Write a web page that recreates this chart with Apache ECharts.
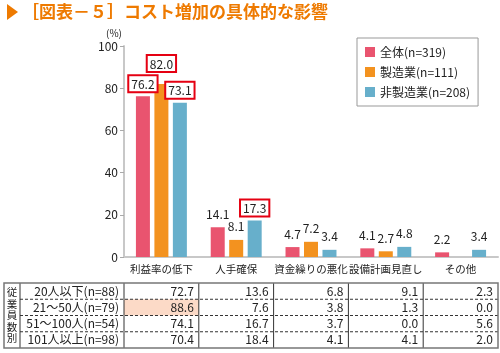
<!DOCTYPE html>
<html><head><meta charset="utf-8">
<script src="https://cdn.jsdelivr.net/npm/echarts@6/dist/echarts.min.js"></script>
<style>html,body{margin:0;padding:0;background:#fff}#c{width:500px;height:353px}</style>
</head><body><div id="c"></div>
<script>
const categories = ['利益率の低下', '人手確保', '資金繰りの悪化', '設備計画見直し', 'その他'];
const seriesNames = ['全体(n=319)', '製造業(n=111)', '非製造業(n=208)'];
const valAll = [76.2, 14.1, 4.7, 4.1, 2.2];
const valMfg = [82.0, 8.1, 7.2, 2.7, null];
const valNonMfg = [73.1, 17.3, 3.4, 4.8, 3.4];
const yTicks = [0, 20, 40, 60, 80, 100];
const tableGroupLabel = '従業員数別';
const tableRowLabels = ['20人以下(n=88)', '21～50人(n=79)', '51～100人(n=54)', '101人以上(n=98)'];
const tableRow1 = [72.7, 13.6, 6.8, 9.1, 2.3];
const tableRow2 = [88.6, 7.6, 3.8, 1.3, 0.0];
const tableRow3 = [74.1, 16.7, 3.7, 0.0, 5.6];
const tableRow4 = [70.4, 18.4, 4.1, 4.1, 2.0];
const tableRows = [tableRow1, tableRow2, tableRow3, tableRow4];

const colors = ['#e9546f', '#f3921f', '#67afcb'];
const FONT = '"Noto Sans CJK JP", "Noto Sans", sans-serif';
// highlighted (boxed) labels: [seriesIndex, dataIndex, extraDistance]
const boxed = [[0,0,0],[1,0,8],[2,0,0],[2,1,0]];
// highlighted table cell: [row, col]
const hiCell = [1, 0];

const gridLeft = 124, gridRight = 2, gridTop = 46, gridBottom = 96;
const W = 500;
const colW = (W - gridLeft - gridRight) / categories.length;

function makeData(vals, si) {
  return vals.map((v, i) => {
    const b = boxed.find(x => x[0] === si && x[1] === i);
    if (v === null) return { value: null, label: { show: false } };
    if (b) {
      return { value: v, label: { show: true, borderColor: '#e50012', borderWidth: 2,
        backgroundColor: '#fff', padding: [2, 2, 1, 2], distance: 5 + b[2] } };
    }
    return v;
  });
}

const series = [valAll, valMfg, valNonMfg].map((vals, si) => ({
  name: seriesNames[si], type: 'bar', data: makeData(vals, si),
  barWidth: 14, barGap: '32%',
  itemStyle: { color: colors[si] },
  label: { show: true, position: 'top', distance: 7, color: '#222', fontSize: 12, fontFamily: FONT,
    formatter: p => p.value.toFixed(1) }
}));

const g = [];
const tTop = 283, rowH = 16.25, tLeft = 4, c1 = 20;
const tBottom = tTop + rowH * tableRows.length;
const tRight = gridLeft + colW * categories.length;
g.push({ type: 'rect', shape: { x: gridLeft + colW * hiCell[1], y: tTop + rowH * hiCell[0], width: colW, height: rowH },
  style: { fill: '#fcdac7' } });
for (let r = 1; r < tableRows.length; r++) {
  g.push({ type: 'line', shape: { x1: c1, y1: tTop + rowH * r, x2: tRight, y2: tTop + rowH * r },
    style: { stroke: '#333', lineWidth: 1, lineDash: [3, 2] } });
}
const vx = [c1, gridLeft];
for (let c = 1; c < categories.length; c++) vx.push(gridLeft + colW * c);
vx.forEach(x => g.push({ type: 'line', shape: { x1: x, y1: tTop, x2: x, y2: tBottom }, style: { stroke: '#333', lineWidth: 1 } }));
g.push({ type: 'rect', shape: { x: tLeft, y: tTop, width: tRight - tLeft, height: tBottom - tTop },
  style: { fill: 'none', stroke: '#777', lineWidth: 1.5 } });
g.push({ type: 'text', style: { text: tableGroupLabel.split('').join('\n'), x: (tLeft + c1) / 2, y: (tTop + tBottom) / 2,
  align: 'center', verticalAlign: 'middle', fontSize: 10.5, lineHeight: 11.5, fontFamily: FONT, fill: '#222' } });
tableRowLabels.forEach((lab, r) => {
  g.push({ type: 'text', style: { text: lab, x: gridLeft - 5, y: tTop + rowH * (r + 0.5),
    align: 'right', verticalAlign: 'middle', fontSize: 12, fontFamily: FONT, fill: '#222' } });
  tableRows[r].forEach((v, c) => {
    g.push({ type: 'text', style: { text: v.toFixed(1), x: gridLeft + colW * (c + 1) - 5, y: tTop + rowH * (r + 0.5),
      align: 'right', verticalAlign: 'middle', fontSize: 12, fontFamily: FONT, fill: '#222' } });
  });
});
g.push({ type: 'polygon', shape: { points: [[7, 4], [18, 12], [7, 20]] }, style: { fill: '#ee7a00' } });
g.push({ type: 'text', style: { text: '［図表－５］コスト増加の具体的な影響', x: 22, y: 12, verticalAlign: 'middle',
  fontSize: 17, fontWeight: 'bold', fontFamily: FONT, fill: '#ee7a00' } });
g.push({ type: 'text', style: { text: '(%)', x: 114, y: 33, align: 'center', verticalAlign: 'middle',
  fontSize: 10, fontFamily: FONT, fill: '#222' } });

const chart = echarts.init(document.getElementById('c'), null, { renderer: 'canvas' });
chart.setOption({
  animation: false,
  textStyle: { fontFamily: FONT },
  grid: { left: gridLeft, right: gridRight, top: gridTop, bottom: gridBottom },
  legend: { data: seriesNames, orient: 'vertical', left: 357, top: 38, itemWidth: 10, itemHeight: 10, itemGap: 8,
    icon: 'rect', borderColor: '#999', borderWidth: 1, padding: [8, 8, 8, 8],
    textStyle: { fontSize: 12, color: '#222', fontFamily: FONT } },
  xAxis: { type: 'category', data: categories,
    axisLine: { lineStyle: { color: '#c8c8c8', width: 2 } }, axisTick: { show: false },
    axisLabel: { color: '#222', fontSize: 10.5, margin: 7, interval: 0, fontFamily: FONT } },
  yAxis: { type: 'value', min: yTicks[0], max: yTicks[yTicks.length - 1], interval: yTicks[1] - yTicks[0],
    axisLine: { show: true, lineStyle: { color: '#c8c8c8', width: 2 } },
    axisTick: { show: true, length: 4, lineStyle: { color: '#aaa' } },
    splitLine: { show: false },
    axisLabel: { color: '#222', fontSize: 12, margin: 6, fontFamily: FONT } },
  series: series,
  graphic: g
});
</script></body></html>
